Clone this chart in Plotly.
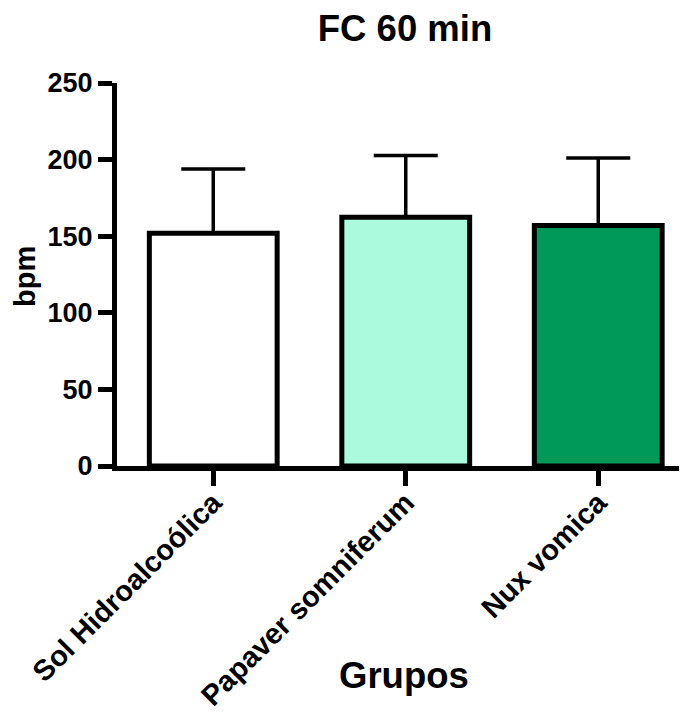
import plotly.graph_objects as go

categories = ["Sol Hidroalcoólica", "Papaver somniferum", "Nux vomica"]
means = [152.0, 162.3, 157.0]
sd_upper = [41.9, 40.4, 44.1]
colors = ["#FFFFFF", "#ABFADE", "#00995A"]
y_ticks = [0, 50, 100, 150, 200, 250]

FONT = "Arial, Liberation Sans, sans-serif"

# page body has an 8px margin; figure origin is at (8, 8) in the window
OFF = 8
PL, PT, PW, PH = 117, 83, 570, 383   # plot area in window pixels
W, H = 687 - OFF, 713 - OFF

fig = go.Figure()
fig.add_trace(go.Bar(
    x=list(range(len(categories))),
    y=means,
    width=0.664,
    marker=dict(color=colors, line=dict(color="black", width=5)),
    error_y=dict(type="data", symmetric=False, array=sd_upper,
                 arrayminus=[0] * len(means), color="black",
                 thickness=3.5, width=32),
    showlegend=False,
    hoverinfo="skip",
))

fig.update_layout(
    width=W, height=H,
    margin=dict(l=PL - OFF, r=W - (PL - OFF) - PW, t=PT - OFF,
                b=H - (PT - OFF) - PH, pad=0),
    plot_bgcolor="white", paper_bgcolor="white",
    title=dict(text="<b>FC 60 min</b>", x=(405 - OFF) / W, xanchor="center",
               y=1 - (28 - OFF) / H, yanchor="middle", yref="container",
               font=dict(family=FONT, size=36.5, color="black")),
    xaxis=dict(
        range=[-0.5, -0.5 + PW / 192.5],
        tickmode="array", tickvals=list(range(len(categories))),
        ticktext=categories, tickangle=-45,
        tickfont=dict(family=FONT, size=29, color="black", weight="bold"),
        ticks="outside", ticklen=15, tickwidth=5, tickcolor="black",
        ticklabelstandoff=-12,
        showline=True, linecolor="black", linewidth=5,
        showgrid=False, zeroline=False, automargin=False,
    ),
    yaxis=dict(
        range=[0, 250], tickmode="array", tickvals=y_ticks,
        tickfont=dict(family=FONT, size=27, color="black", weight="bold"),
        ticks="outside", ticklen=14, tickwidth=4.5, tickcolor="black",
        showline=True, linecolor="black", linewidth=5,
        showgrid=False, zeroline=False, automargin=False,
    ),
    annotations=[
        dict(text="<b>bpm</b>", xref="paper", yref="paper",
             x=(25 - PL) / PW, y=(PT + PH - 277) / PH, textangle=-90,
             showarrow=False, xanchor="center", yanchor="middle",
             font=dict(family=FONT, size=29, color="black")),
        dict(text="<b>Grupos</b>", xref="paper", yref="paper",
             x=(404 - PL) / PW, y=(PT + PH - 675) / PH, showarrow=False,
             xanchor="center", yanchor="middle",
             font=dict(family=FONT, size=36.5, color="black")),
    ],
)

fig.write_html("out.html")
